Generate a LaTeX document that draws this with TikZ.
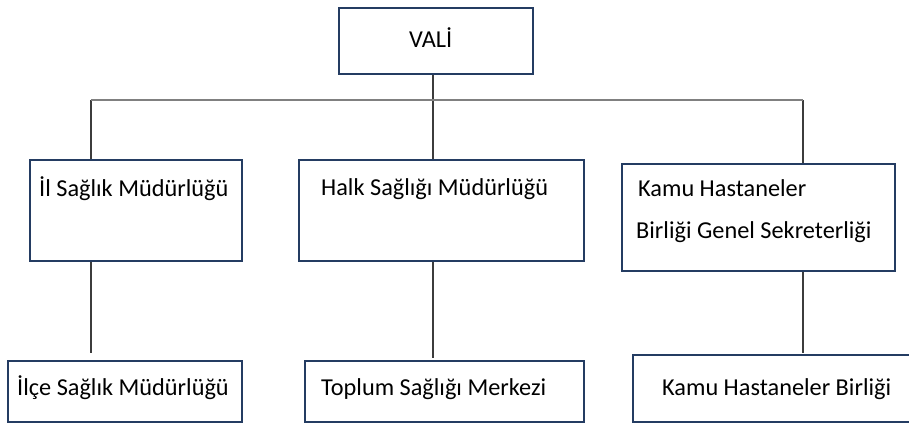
\documentclass[tikz,border=0pt]{standalone}
\usepackage{fontspec}
\setmainfont{Carlito}
\definecolor{boxline}{RGB}{36,60,98}
\definecolor{busline}{RGB}{128,128,128}
\definecolor{dropline}{RGB}{60,60,60}
\begin{document}
\begin{tikzpicture}[x=1pt,y=-1pt,
  unit/.style={draw=boxline,line width=2pt,rectangle,inner sep=0pt,anchor=north west},
  caption/.style={anchor=base west,inner sep=0pt,font=\fontsize{24.3}{29}\selectfont},
  bus/.style={draw=busline,line width=2pt},
  drop/.style={draw=dropline,line width=1.4pt}]
\useasboundingbox (0,0) rectangle (909,423);
% boxes
\node[unit,minimum width=194pt,minimum height=66pt]  (vali)   at (338,7)   {};
\node[unit,minimum width=212pt,minimum height=101pt] (il)     at (29,159)  {};
\node[unit,minimum width=285pt,minimum height=101pt] (halk)   at (298,159) {};
\node[unit,minimum width=273pt,minimum height=107pt] (kamu)   at (621,163) {};
\node[unit,minimum width=234pt,minimum height=61pt]  (ilce)   at (7,360)   {};
\node[unit,minimum width=279pt,minimum height=61pt]  (toplum) at (304,360) {};
\node[unit,minimum width=290pt,minimum height=67pt]  (birlik) at (632,354) {};
% labels
\node[caption] (valit)   at (409,47)  {VALİ};
\node[caption] (ilt)     at (39,196)  {İl Sağlık Müdürlüğü};
\node[caption] (halkt)   at (321,195) {Halk Sağlığı Müdürlüğü};
\node[caption] (kamut1)  at (638,196) {Kamu Hastaneler};
\node[caption] (kamut2)  at (636,238) {Birliği Genel Sekreterliği};
\node[caption] (ilcet)   at (17,395)  {İlçe Sağlık Müdürlüğü};
\node[caption] (toplumt) at (321,395) {Toplum Sağlığı Merkezi};
\node[caption] (birlikt) at (662,395) {Kamu Hastaneler Birliği};
% connectors
\coordinate (b1) at (91,100);
\coordinate (b2) at (433,100);
\coordinate (b3) at (803,100);
\draw[drop] (vali.south -| b2) -- (b2);
\draw[drop] (b1) -- (b1 |- il.north);
\draw[drop] (b2) -- (b2 |- halk.north);
\draw[drop] (b3) -- (b3 |- kamu.north);
\draw[bus] (b1) -- (b3);
\draw[drop,shorten >=7pt] (il.south -| b1) -- (ilce.north -| b1);
\draw[drop,shorten >=2pt] (halk.south -| b2) -- (toplum.north -| b2);
\draw[drop,shorten >=1pt] (kamu.south -| b3) -- (birlik.north -| b3);
\end{tikzpicture}
\end{document}
